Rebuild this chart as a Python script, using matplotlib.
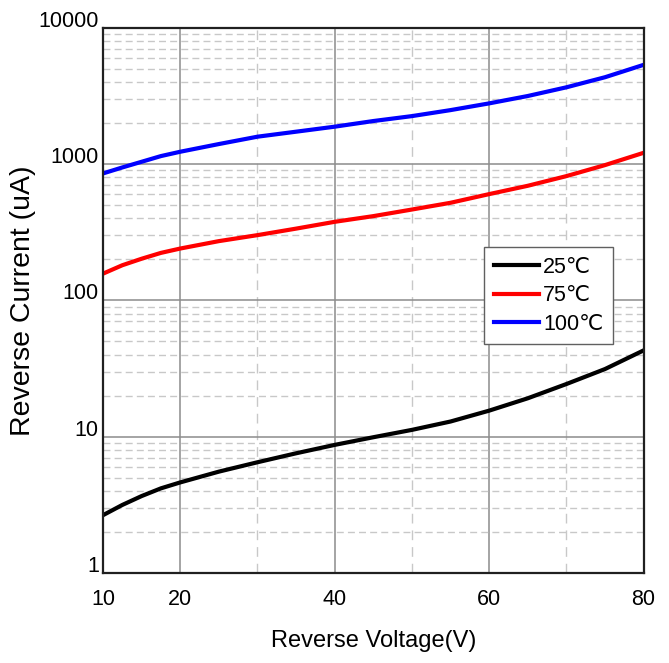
import matplotlib
matplotlib.use("Agg")
import matplotlib.pyplot as plt
import matplotlib.transforms as mtransforms
from matplotlib.ticker import FixedLocator, NullFormatter, LogLocator

# reverse voltage (V)
volts = [10, 12.5, 15, 17.5, 20, 25, 30, 35, 40, 45, 50, 55, 60, 65, 70, 75, 80]

# reverse current (uA)
i_25c = [2.65, 3.15, 3.66, 4.17, 4.61, 5.53, 6.48, 7.54, 8.69, 9.89, 11.2, 12.9, 15.5, 19.1, 24.3, 31.3, 42.9]
i_75c = [157, 181, 202, 223, 240, 272, 301, 336, 377, 415, 464, 520, 602, 693, 816, 983, 1210]
i_100c = [854, 945, 1040, 1145, 1232, 1403, 1589, 1729, 1882, 2070, 2250, 2490, 2790, 3160, 3660, 4340, 5350]

labels = ["25\u2103", "75\u2103", "100\u2103"]
colors = ["black", "red", "blue"]

x_ticks = [10, 20, 40, 60, 80]
x_minor = [30, 50, 70]
y_ticks = [1, 10, 100, 1000, 10000]

plt.rcParams["font.family"] = ["Liberation Sans", "DejaVu Sans"]

fig = plt.figure(figsize=(6.69, 6.63), dpi=100)
ax = fig.add_axes([0.154, 0.136, 0.808, 0.822])

for ys, lab, c in zip([i_25c, i_75c, i_100c], labels, colors):
    ax.plot(volts, ys, color=c, lw=3, label=lab, solid_joinstyle="round")

ax.set_yscale("log")
ax.set_xlim(10, 80)
ax.set_ylim(1, 10000)

ax.xaxis.set_major_locator(FixedLocator(x_ticks))
ax.xaxis.set_minor_locator(FixedLocator(x_minor))
ax.yaxis.set_major_locator(FixedLocator(y_ticks))
ax.yaxis.set_minor_locator(LogLocator(base=10, subs=range(2, 10)))
ax.yaxis.set_minor_formatter(NullFormatter())
ax.set_xticklabels([str(v) for v in x_ticks], fontsize=15.5)
ax.set_yticklabels([str(v) for v in y_ticks], fontsize=15.5)
ax.tick_params(which="both", length=0)
ax.tick_params(axis="x", pad=12)
ax.tick_params(axis="y", pad=3)

# y labels sit a little above their grid lines
up = mtransforms.ScaledTranslation(0, 0.09, fig.dpi_scale_trans)
for t in ax.get_yticklabels():
    t.set_transform(t.get_transform() + up)

ax.grid(True, which="major", color="#8c8c8c", lw=1.1, ls="-")
ax.grid(True, which="minor", axis="y", color="#c8c8c8", lw=1, ls=(0, (5, 3)))
ax.grid(True, which="minor", axis="x", color="#c8c8c8", lw=1, ls=(0, (7, 5)))
ax.set_axisbelow(True)

for s in ax.spines.values():
    s.set_linewidth(1.6)
    s.set_color("#202020")

ax.set_xlabel("Reverse Voltage(V)", fontsize=17, labelpad=14)
ax.set_ylabel("Reverse Current (uA)", fontsize=20.5, labelpad=2)

leg = ax.legend(loc="upper left", bbox_to_anchor=(0.705, 0.598), prop={"size": 15.5},
                fancybox=False, framealpha=1, edgecolor="#606060", handlelength=2.1,
                handletextpad=0.2, borderpad=0.45, labelspacing=0.35, borderaxespad=0)
leg.get_frame().set_linewidth(1)

fig.savefig("out.png", dpi=100)
